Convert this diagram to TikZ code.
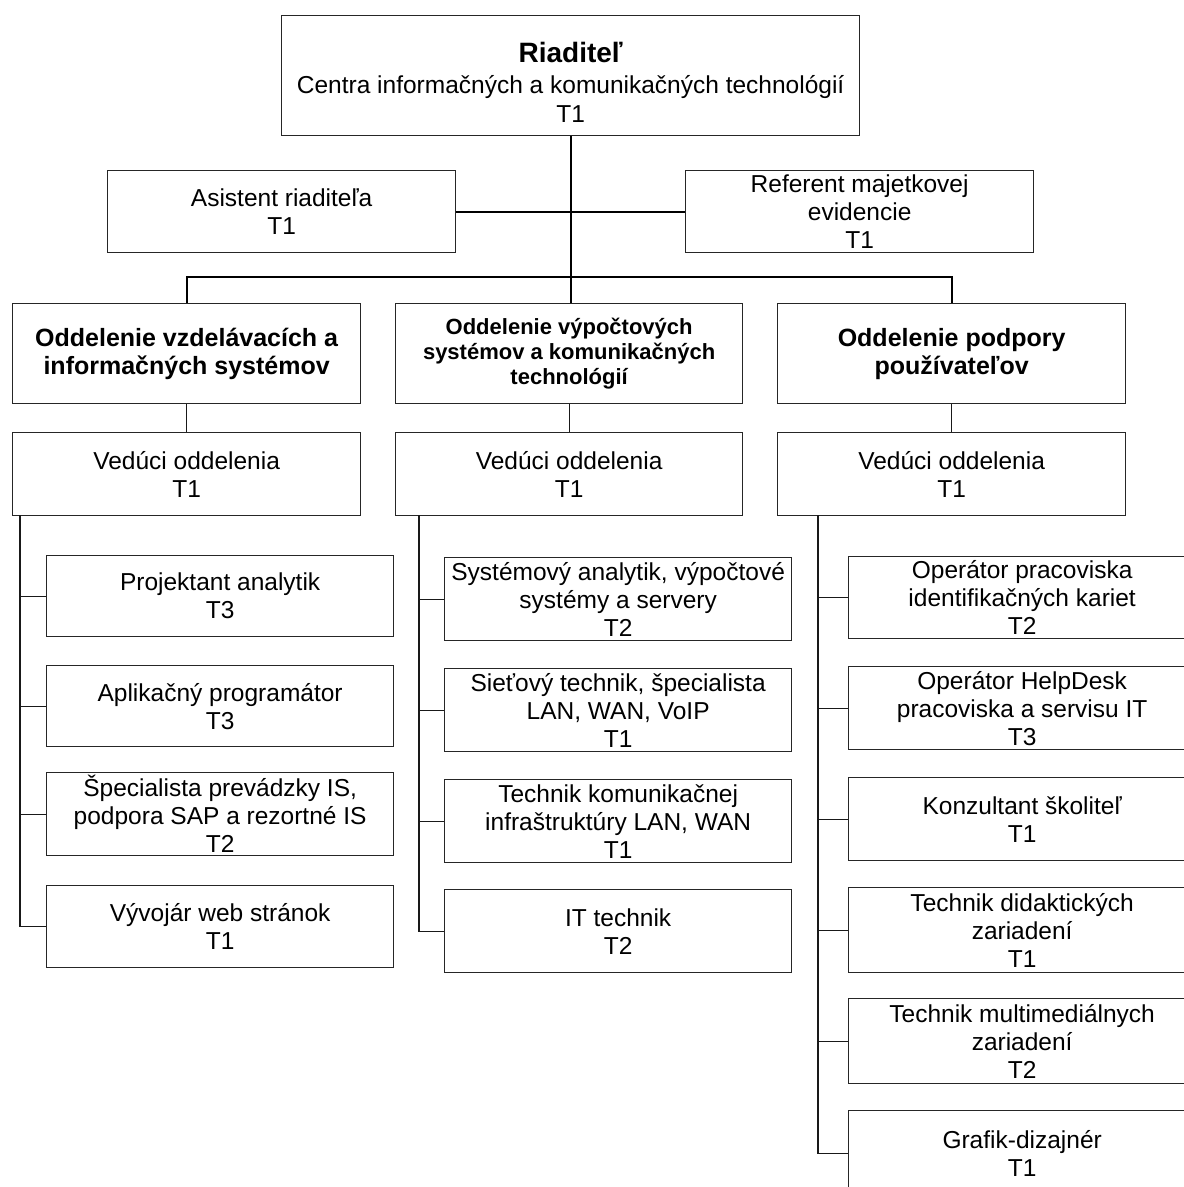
\documentclass[tikz,border=0pt]{standalone}
\usepackage{fontspec}
\setmainfont{Liberation Sans}
\begin{document}
\begin{tikzpicture}[x=1pt,y=-1pt,
  box/.style={draw=black!85, line width=1.3pt, rectangle, inner sep=0pt, align=center, anchor=north west, font=\fontsize{24.5}{28}\selectfont},
  sz/.style 2 args={minimum width=#1, minimum height=#2},
  dept/.style={font=\fontsize{25}{28}\selectfont\bfseries},
  deptsmall/.style={font=\fontsize{22}{25}\selectfont\bfseries},
  conn/.style={draw=black!90, line width=1.3pt},
  trunk/.style={draw=black, line width=2.2pt}]
\useasboundingbox (0,0) rectangle (1184,1187);
\clip (0,0) rectangle (1184,1187);
\fill[white] (0,0) rectangle (1184,1187);

% top level
\node[box, sz={578}{120}] (dir) at (281,15) {\rule{0pt}{34pt}{\fontsize{28}{32}\selectfont\bfseries Riaditeľ}\\[3pt] Centra informačných a komunikačných technológií\\[1pt] T1};
\node[box, sz={348}{82}] (asst) at (107,170) {Asistent riaditeľa\\ T1};
\node[box, sz={348}{82}] (ref) at (685,170) {Referent majetkovej\\ evidencie\\ T1};

% departments
\node[box, dept, sz={348}{100}] (d1) at (12,303) {Oddelenie vzdelávacích a\\ informačných systémov};
\node[box, deptsmall, sz={347}{100}] (d2) at (395,303) {Oddelenie výpočtových\\ systémov a komunikačných\\ technológií};
\node[box, dept, sz={348}{100}] (d3) at (777,303) {Oddelenie podpory\\ používateľov};

% heads
\node[box, sz={348}{83}] (v1) at (12,432) {Vedúci oddelenia\\ T1};
\node[box, sz={347}{83}] (v2) at (395,432) {Vedúci oddelenia\\ T1};
\node[box, sz={348}{83}] (v3) at (777,432) {Vedúci oddelenia\\ T1};

% column 1
\node[box, sz={347}{81}] (c11) at (46,555) {Projektant analytik\\ T3};
\node[box, sz={347}{81}] (c12) at (46,665) {Aplikačný programátor\\ T3};
\node[box, sz={347}{83}] (c13) at (46,772) {Špecialista prevádzky IS,\\ podpora SAP a rezortné IS\\ T2};
\node[box, sz={347}{82}] (c14) at (46,885) {Vývojár web stránok\\ T1};

% column 2
\node[box, sz={347}{83}] (c21) at (444,557) {Systémový analytik, výpočtové\\ systémy a servery\\ T2};
\node[box, sz={347}{83}] (c22) at (444,668) {Sieťový technik, špecialista\\ LAN, WAN, VoIP\\ T1};
\node[box, sz={347}{83}] (c23) at (444,779) {Technik komunikačnej\\ infraštruktúry LAN, WAN\\ T1};
\node[box, sz={347}{83}] (c24) at (444,889) {IT technik\\ T2};

% column 3
\node[box, sz={347}{82}] (c31) at (848,556) {Operátor pracoviska\\ identifikačných kariet\\ T2};
\node[box, sz={347}{83}] (c32) at (848,666) {Operátor HelpDesk\\ pracoviska a servisu IT\\ T3};
\node[box, sz={347}{83}] (c33) at (848,777) {Konzultant školiteľ\\ T1};
\node[box, sz={347}{85}] (c34) at (848,887) {Technik didaktických\\ zariadení\\ T1};
\node[box, sz={347}{85}] (c35) at (848,998) {Technik multimediálnych\\ zariadení\\ T2};
\node[box, sz={347}{85}] (c36) at (848,1110) {Grafik-dizajnér\\ T1};

% upper connectors
\coordinate (bus) at (570,277);
\draw[trunk] (dir.south) -- (dir.south |- d2.north);
\draw[trunk] (asst.east) -- (ref.west);
\draw[trunk] (d1.north) |- (bus) -| (d3.north);

% department to head
\draw[conn] (d1.south) -- (v1.north);
\draw[conn] (d2.south) -- (v2.north);
\draw[conn] (d3.south) -- (v3.north);

% spines
\coordinate (s1) at (20,515);
\coordinate (s2) at (419,515);
\coordinate (s3) at (818,515);
\draw[conn] (s1) |- (c14.west);
\draw[conn] (s2) |- (c24.west);
\draw[conn] (s3) |- (c36.west);
\foreach \c in {c11,c12,c13} \draw[conn] (\c.west) -- (\c.west -| s1);
\foreach \c in {c21,c22,c23} \draw[conn] (\c.west) -- (\c.west -| s2);
\foreach \c in {c31,c32,c33,c34,c35} \draw[conn] (\c.west) -- (\c.west -| s3);
\end{tikzpicture}
\end{document}
